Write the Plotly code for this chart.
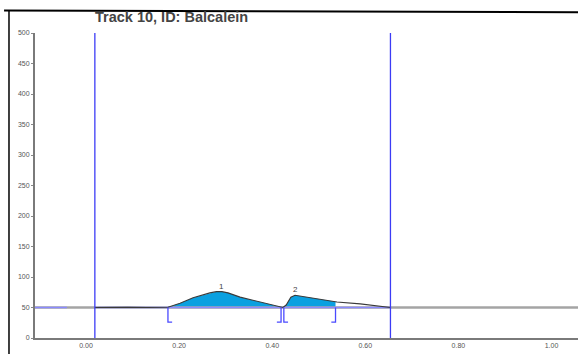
import numpy as np
import plotly.graph_objects as go

# Densitogram trace (Rf position vs. signal)
rf = [0.019, 0.05, 0.09, 0.13, 0.16, 0.176, 0.202, 0.230, 0.266, 0.280, 0.292, 0.305,
      0.331, 0.374, 0.400, 0.419, 0.423, 0.430, 0.440, 0.449, 0.490, 0.539, 0.589, 0.632, 0.654]
signal = [50, 50.5, 50.5, 50, 50, 50.5, 57, 66, 74, 76, 76, 74,
          67, 59, 55, 51, 50, 54, 67, 70, 65, 59, 56, 52, 50]

baseline = 50
# Integration windows per peak: start, end
peak_ids = ["1", "2"]
peak_start = [0.176, 0.425]
peak_end = [0.419, 0.536]
peak_top_rf = [0.292, 0.449]
peak_top_val = [76, 70]

# Analysis window borders
window = [0.019, 0.654]

x_ticks = [0.0, 0.2, 0.4, 0.6, 0.8, 1.0]
x_labels = ["0.00", "0.20", "0.40", "0.60", "0.80", "1.00"]
y_ticks = list(range(0, 501, 50))

X_RANGE = [-0.1096, 1.0569]
Y_RANGE = [0, 500]

fig = go.Figure()

# Filled peak areas between trace and baseline
for s, e in zip(peak_start, peak_end):
    xs = [s] + [x for x in rf if s < x < e] + [e]
    ys = list(np.interp(xs, rf, signal))
    fig.add_trace(go.Scatter(
        x=xs + [e, s], y=ys + [baseline, baseline],
        fill="toself", fillcolor="#0aa0e0", mode="lines",
        line=dict(width=0), hoverinfo="skip", showlegend=False))

# Grey baseline across the whole plate
fig.add_trace(go.Scatter(x=X_RANGE, y=[baseline, baseline], mode="lines",
                         line=dict(color="#a4a4a4", width=2.5),
                         hoverinfo="skip", showlegend=False))
# Integration baselines (light blue)
for seg in ([X_RANGE[0], -0.041], [window[0], window[1]]):
    fig.add_trace(go.Scatter(x=seg, y=[baseline, baseline], mode="lines",
                             line=dict(color="#8a8aff", width=1.5),
                             hoverinfo="skip", showlegend=False))

# Signal
fig.add_trace(go.Scatter(x=rf, y=signal, mode="lines",
                         line=dict(color="#3a3a3a", width=1.1),
                         hoverinfo="skip", showlegend=False))

# Peak integration brackets
bracket_bottom = 26
tick_len = 0.009
for s, e in zip(peak_start, peak_end):
    for xv, d in ((s, 1), (e, -1)):
        fig.add_trace(go.Scatter(
            x=[xv, xv, xv + d * tick_len], y=[baseline, bracket_bottom, bracket_bottom],
            mode="lines", line=dict(color="#4a4aff", width=1.3),
            hoverinfo="skip", showlegend=False))

# Peak numbers
for pid, px, py in zip(peak_ids, peak_top_rf, peak_top_val):
    fig.add_annotation(x=px, y=py, text=pid, showarrow=False, yanchor="bottom",
                       yshift=-1, font=dict(family="Liberation Sans, Arial", size=8, color="#444"))

# Window borders
for xv in window:
    fig.add_shape(type="line", x0=xv, x1=xv, y0=Y_RANGE[0], y1=Y_RANGE[1],
                  xref="x", yref="y", line=dict(color="#3c3cf5", width=1.3))

# Outer frame lines
fig.add_shape(type="line", xref="paper", yref="paper", x0=-0.057, x1=1.0,
              y0=1.074, y1=1.068, line=dict(color="#000", width=2))
fig.add_shape(type="line", xref="paper", yref="paper", x0=-0.0479, x1=-0.0479,
              y0=1.074, y1=-0.06, line=dict(color="#000", width=1.5))

fig.add_annotation(xref="paper", yref="paper", x=(93 - 35) / 543, y=(338 - 17) / 305,
                   text="<b>Track 10, ID: Balcalein</b>", showarrow=False,
                   xanchor="left", yanchor="middle",
                   font=dict(family="Liberation Sans, Arial", size=14.5, color="#444"))

fig.update_layout(
    width=578, height=354,
    margin=dict(l=35, r=0, t=33, b=16),
    paper_bgcolor="white", plot_bgcolor="white",
    showlegend=False,
    xaxis=dict(range=X_RANGE, tickvals=x_ticks, ticktext=x_labels, showgrid=False,
               zeroline=False, showline=True, linecolor="#7a7a7a", linewidth=2,
               ticks="", tickfont=dict(family="Liberation Sans, Arial", size=7, color="#555")),
    yaxis=dict(range=Y_RANGE, tickvals=y_ticks, showgrid=False, zeroline=False,
               showline=True, linecolor="#7a7a7a", linewidth=2,
               ticks="outside", ticklen=2, tickcolor="#888", tickwidth=1,
               tickfont=dict(family="Liberation Sans, Arial", size=7, color="#555")),
)

fig.write_html("out.html")
